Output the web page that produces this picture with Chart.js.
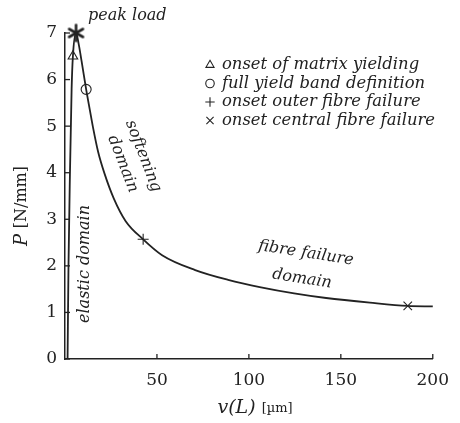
<!DOCTYPE html>
<html lang="en">
<head>
    <meta charset="UTF-8">
    <title>Load-displacement curve</title>
    <script src="https://cdn.jsdelivr.net/npm/chart.js"></script>
    <style>
        body { margin: 0; background: #fff; }
        #wrap { width: 460px; height: 423px; position: relative; }
    </style>
</head>
<body>
    <div id="wrap"><canvas id="curveCanvas" width="460" height="423"></canvas></div>

    <script>
        // load-displacement curve
        const curveX = [1.4, 1.9, 2.7, 3.6, 4.3, 6.0, 7.5, 9.0, 11.5, 13.5, 15.2, 18.0, 21.5, 26.5, 33.0, 42.5, 52.8, 70.8, 88.7, 106.6, 124.6, 142.0, 165.8, 186.4, 200.0];
        const curveP = [0.0, 2.0, 4.0, 5.8, 6.5, 7.0, 6.75, 6.4, 5.79, 5.35, 4.98, 4.45, 3.98, 3.45, 2.96, 2.57, 2.23, 1.91, 1.70, 1.54, 1.41, 1.31, 1.21, 1.14, 1.13];

        // marked events [v, P]
        const peakPoint = [6.0, 7.0];
        const matrixYield = [4.3, 6.5];
        const yieldBand = [11.5, 5.79];
        const outerFibre = [42.5, 2.57];
        const centralFibre = [186.4, 1.14];

        const legendLabels = ['onset of matrix yielding', 'full yield band definition', 'onset outer fibre failure', 'onset central fibre failure'];
        const xTicks = [50, 100, 150, 200];
        const yTicks = [0, 1, 2, 3, 4, 5, 6, 7];

        const ink = '#222';
        const serif = "'DejaVu Serif', 'Liberation Serif', serif";

        const pt = (a) => [{ x: a[0], y: a[1] }];

        // six-armed asterisk for the peak
        function asterisk(r, w) {
            const c = document.createElement('canvas');
            const s = Math.ceil(2 * r + w + 2);
            c.width = s; c.height = s;
            const g = c.getContext('2d');
            g.strokeStyle = ink;
            g.lineWidth = w;
            g.lineCap = 'round';
            for (let k = 0; k < 3; k++) {
                const a = Math.PI / 2 + k * Math.PI / 3;
                g.beginPath();
                g.moveTo(s / 2 + r * Math.cos(a), s / 2 + r * Math.sin(a));
                g.lineTo(s / 2 - r * Math.cos(a), s / 2 - r * Math.sin(a));
                g.stroke();
            }
            return c;
        }

        function marker(label, arr, style, radius, width) {
            return {
                label: label,
                data: pt(arr),
                showLine: false,
                clip: false,
                pointStyle: style,
                pointRadius: radius,
                pointHoverRadius: radius,
                pointBorderColor: ink,
                pointBackgroundColor: 'rgba(0,0,0,0)',
                pointBorderWidth: width
            };
        }

        function mixedText(ctx, parts, cx, y) {
            let total = 0;
            parts.forEach(p => { ctx.font = p.font; p.w = ctx.measureText(p.text).width; total += p.w; });
            let x = cx - total / 2;
            ctx.textAlign = 'left';
            parts.forEach(p => { ctx.font = p.font; ctx.fillText(p.text, x, y + (p.dy || 0)); x += p.w; });
        }

        // text annotations, inward ticks, legend and axis titles
        const decorPlugin = {
            id: 'decor',
            afterDraw(chart) {
                const ctx = chart.ctx;
                const xs = chart.scales.x, ys = chart.scales.y;
                const area = chart.chartArea;
                ctx.save();
                ctx.strokeStyle = ink;
                ctx.lineWidth = 1.3;
                // ticks pointing into the plot
                xTicks.forEach(v => {
                    const px = xs.getPixelForValue(v);
                    ctx.beginPath(); ctx.moveTo(px, area.bottom); ctx.lineTo(px, area.bottom - 5); ctx.stroke();
                });
                yTicks.forEach(v => {
                    const py = ys.getPixelForValue(v);
                    ctx.beginPath(); ctx.moveTo(area.left, py); ctx.lineTo(area.left + 5, py); ctx.stroke();
                });

                ctx.fillStyle = ink;
                ctx.textBaseline = 'middle';

                // legend
                const markers = chart.data.datasets.slice(2);
                markers.forEach((ds, i) => {
                    const y = 65 + i * 18.5;
                    const opts = {
                        pointStyle: ds.pointStyle,
                        radius: ds.pointRadius * 0.85,
                        borderWidth: 1.1
                    };
                    ctx.strokeStyle = ink;
                    ctx.fillStyle = 'rgba(0,0,0,0)';
                    ctx.lineWidth = 1.1;
                    if (Chart.helpers && Chart.helpers.drawPoint) {
                        Chart.helpers.drawPoint(ctx, opts, 210, y);
                    }
                    ctx.fillStyle = ink;
                    ctx.font = 'italic 16.4px ' + serif;
                    ctx.textAlign = 'left';
                    ctx.fillText(legendLabels[i], 222, y);
                });

                // annotations
                ctx.font = 'italic 16px ' + serif;
                ctx.textAlign = 'left';
                ctx.fillText('peak load', 88, 16);

                ctx.textAlign = 'center';
                ctx.save();
                ctx.translate(133, 160);
                ctx.rotate(69 * Math.PI / 180);
                ctx.fillText('softening', 0, -11);
                ctx.fillText('domain', 0, 11);
                ctx.restore();

                ctx.save();
                ctx.translate(85, 264);
                ctx.rotate(-Math.PI / 2);
                ctx.fillText('elastic domain', 0, 0);
                ctx.restore();

                ctx.save();
                ctx.translate(304, 266);
                ctx.rotate(8.8 * Math.PI / 180);
                ctx.fillText('fibre failure', 0, -13);
                ctx.fillText('domain', 0, 13);
                ctx.restore();

                // y title: P [N/mm]
                ctx.save();
                ctx.translate(22, 206);
                ctx.rotate(-Math.PI / 2);
                mixedText(ctx, [
                    { text: 'P ', font: 'italic 18px ' + serif },
                    { text: '[N/mm]', font: '16px ' + serif }
                ], 0, 0);
                ctx.restore();

                // x title: v(L) [µm]
                mixedText(ctx, [
                    { text: 'v(L) ', font: 'italic 19px ' + serif },
                    { text: '[µm]', font: '13px ' + serif, dy: 1 }
                ], 255, 408);
                ctx.restore();
            }
        };

        const curveData = curveX.map((v, i) => ({ x: v, y: curveP[i] }));

        new Chart(document.getElementById('curveCanvas').getContext('2d'), {
            type: 'scatter',
            data: {
                datasets: [
                    {
                        label: 'P',
                        data: curveData,
                        showLine: true,
                        clip: false,
                        borderColor: ink,
                        borderWidth: 1.8,
                        pointRadius: 0,
                        cubicInterpolationMode: 'monotone'
                    },
                    marker('peak load', peakPoint, asterisk(8, 2.6), 9, 2.6),
                    marker(legendLabels[0], matrixYield, 'triangle', 5.5, 1.1),
                    marker(legendLabels[1], yieldBand, 'circle', 5, 1.1),
                    marker(legendLabels[2], outerFibre, 'cross', 5.5, 1.1),
                    marker(legendLabels[3], centralFibre, 'crossRot', 6, 1.1)
                ]
            },
            options: {
                responsive: false,
                animation: false,
                devicePixelRatio: 1,
                layout: { padding: { top: 33, right: 23, left: 0, bottom: 0 } },
                scales: {
                    x: {
                        type: 'linear',
                        min: 0,
                        max: 200,
                        afterFit: s => { s.height = 64; },
                        afterBuildTicks: s => { s.ticks = xTicks.map(v => ({ value: v })); },
                        grid: { display: false, drawTicks: false },
                        border: { display: true, color: ink, width: 1.5 },
                        ticks: { color: ink, padding: 11, font: { family: serif, size: 17 } }
                    },
                    y: {
                        min: 0,
                        max: 7,
                        afterFit: s => { s.width = 65; },
                        afterBuildTicks: s => { s.ticks = yTicks.map(v => ({ value: v })); },
                        grid: { display: false, drawTicks: false },
                        border: { display: true, color: ink, width: 1.5 },
                        ticks: { color: ink, padding: 8, font: { family: serif, size: 17 } }
                    }
                },
                plugins: {
                    legend: { display: false },
                    tooltip: { enabled: false }
                }
            },
            plugins: [decorPlugin]
        });
    </script>
</body>
</html>
